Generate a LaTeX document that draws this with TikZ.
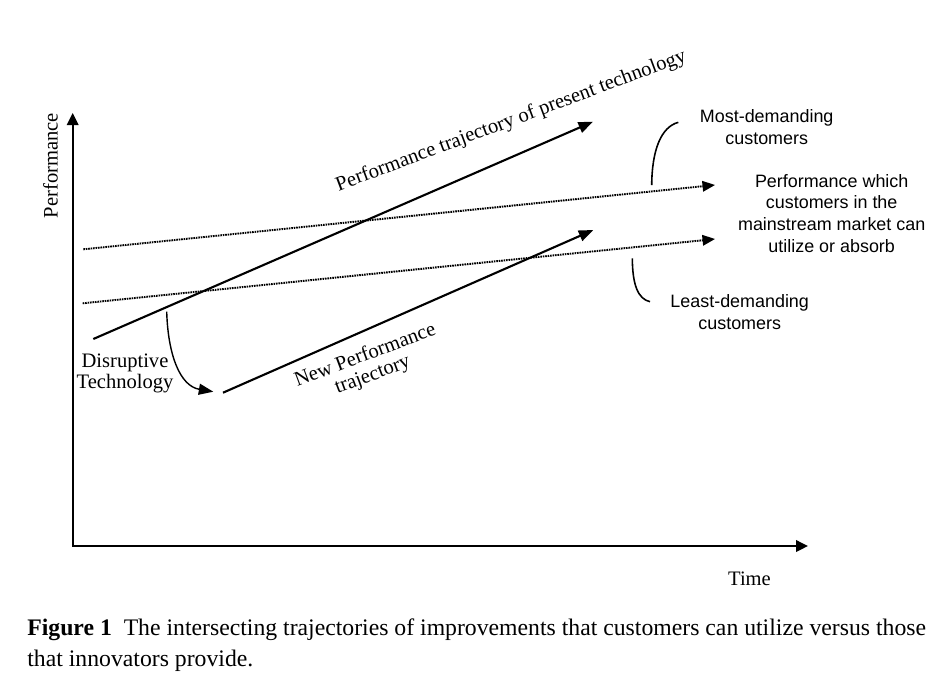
\documentclass[tikz,border=0pt]{standalone}
\usepackage{fontspec}
\setmainfont{Liberation Serif}
\newfontfamily\labelsans{Liberation Sans}
\usetikzlibrary{arrows.meta}

\begin{document}
\begin{tikzpicture}[
    x=0.02cm, y=-0.02cm,
    axes/.style={
        <->,
        >={Triangle[length=2.4mm, width=2.3mm]},
        line width=1.1pt
    },
    arrow/.style={
        -{Triangle[length=2.9mm, width=2.2mm]},
        line width=1.2pt
    },
    dotline/.style={
        -{Triangle[length=2.5mm, width=2.1mm]},
        line width=1.1pt,
        dash pattern=on 0.9pt off 0.5pt
    },
    bracket/.style={line width=0.9pt},
    serif/.style={
        font=\fontsize{11.7}{12}\selectfont,
        inner sep=0pt,
        align=center
    },
    sans/.style={
        font=\labelsans\fontsize{10.2}{12.3}\selectfont,
        inner sep=0pt,
        align=center
    },
    caption/.style={
        font=\fontsize{13.5}{17.6}\selectfont,
        inner sep=0pt,
        align=left
    }
]
\useasboundingbox (0,0) rectangle (952,694);

% Axes
\coordinate (origin) at (72.7,546);
\coordinate (ytop) at (72.7,113);
\coordinate (xend) at (808,546);
\draw[axes] (ytop) -- (origin) -- (xend);

\node[serif, rotate=90] (perf) at (50.5,165.5) {Performance};
\node[serif] (time) at (749.5,579) {Time};

% Trajectories
\coordinate (old start) at (93.3,339);
\coordinate (old tip) at (593,121.7);
\coordinate (new start) at (223,392.7);
\coordinate (new tip) at (593.3,230);
\coordinate (most start) at (83.3,249.3);
\coordinate (most tip) at (715,185);
\coordinate (least start) at (82.7,303.3);
\coordinate (least tip) at (715,239);

\draw[arrow] (old start) -- (old tip);
\draw[arrow] (new start) -- (new tip);
\draw[dotline] (most start) -- (most tip);
\draw[dotline] (least start) -- (least tip);

\node[serif, anchor=base, rotate=20.5] (oldlabel) at (513,126)
    {Performance trajectory of present technology};
\node[serif, rotate=20.5] (newlabel) at (369,365.5) {New Performance\\trajectory};
\node[serif] (disruptive) at (125,373) {Disruptive\\Technology};

% Jump to the new trajectory
\coordinate (jump from) at (166.7,311.7);
\coordinate (jump to) at (213.3,391.7);
\draw[arrow, line width=0.8pt] (jump from) .. controls (168,355) and (180,386) .. (jump to);

% Customer labels
\node[sans] (most) at (766.7,127) {Most-demanding\\customers};
\node[sans] (mainstream) at (831.7,213.3)
    {Performance which\\customers in the\\mainstream market can\\utilize or absorb};
\node[sans] (least) at (739.7,312.3) {Least-demanding\\customers};

\coordinate (most low) at (651.7,185);
\coordinate (most high) at (678.3,122.3);
\coordinate (least high) at (632.3,258.3);
\coordinate (least low) at (650,301.7);
\draw[bracket] (most low) .. controls (652,150) and (661,127) .. (most high);
\draw[bracket] (least high) .. controls (632.5,285) and (638,299) .. (least low);

% Caption
\node[caption, anchor=north west] (caption) at (27,618.5)
    {\textbf{Figure 1}\hspace{0.5em}The intersecting trajectories of improvements that customers can utilize versus those\\that innovators provide.};
\end{tikzpicture}
\end{document}
